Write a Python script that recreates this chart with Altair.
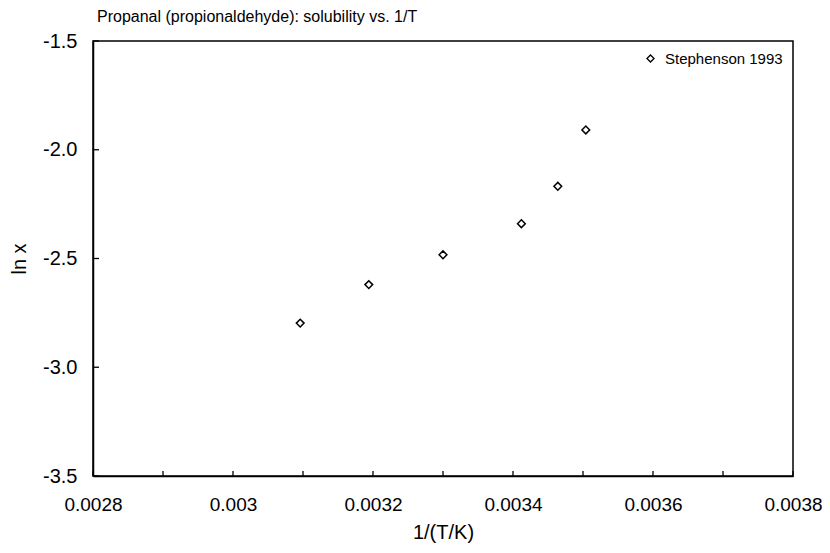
import altair as alt
import pandas as pd

inv_T = [0.003096, 0.003194, 0.003300, 0.003412, 0.003464, 0.003504]
ln_x = [-2.797, -2.620, -2.483, -2.340, -2.168, -1.909]
series = ["Stephenson 1993"] * len(inv_T)

x_ticks = [0.0028, 0.0029, 0.0030, 0.0031, 0.0032, 0.0033, 0.0034, 0.0035, 0.0036, 0.0037, 0.0038]
y_ticks = [-1.5, -2.0, -2.5, -3.0, -3.5]

df = pd.DataFrame({"x": inv_T, "y": ln_x, "series": series})
xt = pd.DataFrame({"x": x_ticks})
yt = pd.DataFrame({"y": y_ticks})

W, H = 700, 435
FONT = "Liberation Sans"

xscale = alt.Scale(domain=[0.0028, 0.0038], nice=False, zero=False)
yscale = alt.Scale(domain=[-3.5, -1.5], nice=False, zero=False)

points = alt.Chart(df).mark_point(shape="diamond", filled=False, size=60, strokeWidth=1.5, opacity=1).encode(
    x=alt.X("x:Q", scale=xscale, title="1/(T/K)",
            axis=alt.Axis(values=x_ticks, format="~g", ticks=False, grid=False, labelFlush=False,
                          labelExpr="round(datum.value*10000) % 2 == 0 ? datum.label : ''",
                          labelFontSize=19, labelPadding=19, titlePadding=8)),
    y=alt.Y("y:Q", scale=yscale, title="ln x",
            axis=alt.Axis(values=y_ticks, format=".1f", ticks=False, grid=False, labelFlush=False,
                          labelExpr="replace(datum.label, '\u2212', '-')",
                          labelPadding=16, titlePadding=13)),
    color=alt.Color("series:N", scale=alt.Scale(range=["black"]),
                    legend=alt.Legend(title=None, orient="top-right", offset=10,
                                      symbolType="diamond", symbolSize=50, symbolStrokeWidth=1.3,
                                      symbolFillColor="white", labelFontSize=15, labelFont=FONT,
                                      labelColor="black", padding=0, labelOffset=7)),
)

xticks = alt.Chart(xt).mark_rule(color="black", strokeWidth=1.3).encode(
    x=alt.X("x:Q", scale=xscale),
    y=alt.value(H), y2=alt.value(H - 5),
)
yticks = alt.Chart(yt).mark_rule(color="black", strokeWidth=1.3).encode(
    y=alt.Y("y:Q", scale=yscale),
    x=alt.value(0), x2=alt.value(6),
)

chart = alt.layer(xticks, yticks, points).properties(
    width=W, height=H,
    background="white",
    title=alt.TitleParams("Propanal (propionaldehyde): solubility vs. 1/T", anchor="start", frame="group",
                          font=FONT, fontSize=16, fontWeight="normal", color="black", offset=6, dx=4),
    autosize=alt.AutoSizeParams(type="none"),
    padding={"left": 85, "top": 33, "right": 29, "bottom": 69},
).configure_view(stroke="black", strokeWidth=1.5).configure_axis(
    domainColor="black", domainWidth=1.5, labelColor="black", labelFont=FONT, labelFontSize=20,
    titleFont=FONT, titleFontSize=20, titleFontWeight="normal", titleColor="black",
)

chart.save("out.html", embed_options={"renderer": "svg", "actions": False})
